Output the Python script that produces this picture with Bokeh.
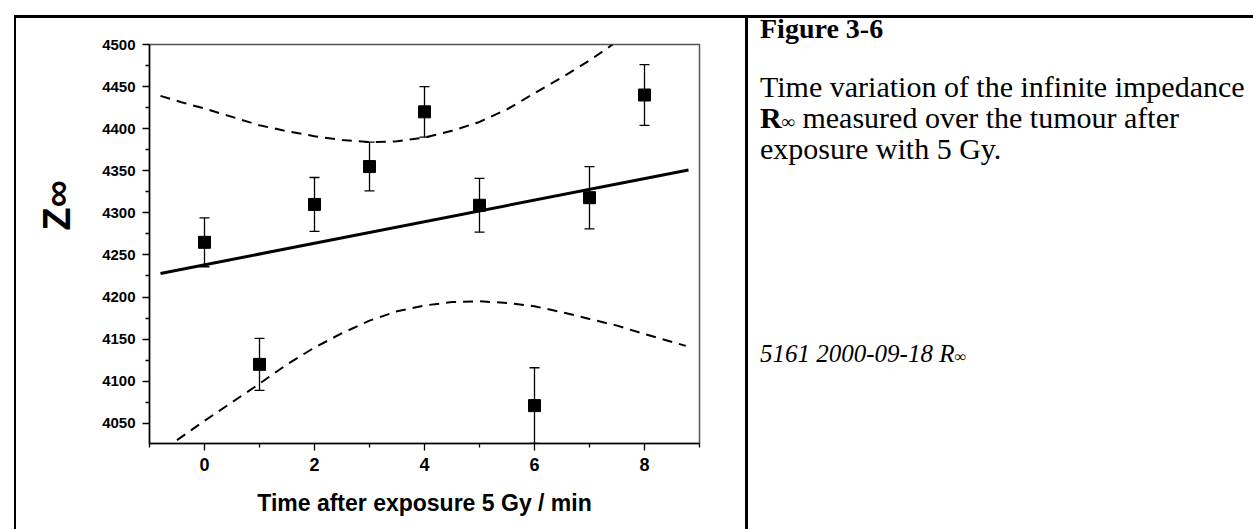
from bokeh.plotting import figure
from bokeh.models import (Range1d, Whisker, ColumnDataSource, TeeHead, FixedTicker,
                          Title, Div)
from bokeh.layouts import column
from bokeh.embed import file_html
from bokeh.resources import INLINE

# ---- data ----
time_min = [0, 1, 2, 3, 4, 5, 6, 7, 8]
z_inf = [4265, 4120, 4310, 4355, 4420, 4309, 4071, 4318, 4440]
z_err = [29, 31, 32, 29, 30, 32, 45, 37, 36]

fit_x = [-0.8, 8.8]
fit_y = [4228, 4351]

upper_x = [-0.8, -0.4, 0, 0.5, 1, 1.5, 2, 2.5, 3, 3.5, 4, 4.5, 5, 5.5, 6, 6.5, 7, 7.42]
upper_y = [4439, 4431, 4424, 4414, 4404, 4397, 4391, 4386.5, 4384, 4385, 4389.5, 4397.5,
           4408, 4423, 4442, 4461, 4481, 4500]

lower_x = [-0.5, 0, 0.5, 1, 1.5, 2, 2.5, 3, 3.5, 4, 4.5, 5, 5.5, 6, 6.5, 7, 7.5, 8, 8.75]
lower_y = [4030, 4053, 4075, 4097, 4120, 4140, 4157, 4172, 4183, 4190, 4194, 4195, 4193,
           4189, 4182, 4174, 4166, 4156, 4142]

x_ticks = [0, 2, 4, 6, 8]
x_minor = [-1, 1, 3, 5, 7, 9]
y_ticks = [4050, 4100, 4150, 4200, 4250, 4300, 4350, 4400, 4450, 4500]
y_minor = [4075, 4125, 4175, 4225, 4275, 4325, 4375, 4425, 4475]

x_title = "Time after exposure 5 Gy / min"
y_title = "Z∞"
caption_head = "Figure 3-6"
caption_lines = ["Time variation of the infinite impedance",
                 "measured over the tumour after",
                 "exposure with 5 Gy."]
caption_note = "5161 2000-09-18 R"

X0, X1 = -1, 9
Y0, Y1 = 4026, 4500
FW, FH = 550, 399
FL, FT = 149, 44
W, H = 1253, 529

p = figure(frame_width=FW, frame_height=FH,
           x_range=Range1d(X0, X1), y_range=Range1d(Y0, Y1),
           output_backend="svg", toolbar_location=None,
           min_border_left=FL, min_border_right=W - FL - FW,
           min_border_top=FT, min_border_bottom=H - FT - FH)
p.background_fill_color = "white"
p.border_fill_color = "white"
p.xgrid.visible = False
p.ygrid.visible = False
p.outline_line_color = "#555555"
p.outline_line_width = 1.5

p.xaxis.ticker = FixedTicker(ticks=x_ticks, minor_ticks=x_minor)
p.yaxis.ticker = FixedTicker(ticks=y_ticks, minor_ticks=y_minor)
for ax in (p.xaxis[0], p.yaxis[0]):
    ax.axis_line_color = "black"
    ax.axis_line_width = 1.5
    ax.major_tick_line_color = "black"
    ax.minor_tick_line_color = "black"
    ax.major_tick_line_width = 1.3
    ax.minor_tick_line_width = 1.3
    ax.major_tick_in = 0
    ax.major_tick_out = 7
    ax.minor_tick_in = 0
    ax.minor_tick_out = 4
    ax.major_label_text_font = "Liberation Sans"
    ax.major_label_text_font_style = "bold"
    ax.major_label_text_color = "black"

p.yaxis.major_label_text_font_size = "15px"
p.yaxis.major_label_standoff = 7
p.xaxis.major_label_text_font_size = "18px"
p.xaxis.major_label_standoff = 7
p.xaxis.axis_label = x_title
p.xaxis.axis_label_text_font = "Liberation Sans"
p.xaxis.axis_label_text_font_style = "bold"
p.xaxis.axis_label_text_font_size = "23px"
p.xaxis.axis_label_text_color = "black"
p.xaxis.axis_label_standoff = 16

# y title as a left-side title, shifted up along the axis
p.add_layout(Title(text=y_title, align="left", offset=213, standoff=43,
                   text_font="Liberation Sans", text_font_style="bold",
                   text_font_size="38px", text_color="black"), "left")

# ---- glyphs ----
p.line(fit_x, fit_y, line_color="black", line_width=3)
p.line(upper_x, upper_y, line_color="black", line_width=2, line_dash="10 7")
p.line(lower_x, lower_y, line_color="black", line_width=2, line_dash="10 7")

src = ColumnDataSource(dict(
    x=time_min, y=z_inf,
    upper=[v + e for v, e in zip(z_inf, z_err)],
    lower=[v - e for v, e in zip(z_inf, z_err)]))
p.add_layout(Whisker(base="x", upper="upper", lower="lower", source=src,
                     line_color="black", line_width=1.3,
                     upper_head=TeeHead(size=10, line_color="black", line_width=1.3),
                     lower_head=TeeHead(size=10, line_color="black", line_width=1.3)))
p.scatter("x", "y", source=src, marker="square", size=12,
          fill_color="black", line_color="black")

# ---- table borders and caption (HTML overlay) ----
def text_top(baseline, size):
    # line-height:1 -> baseline sits 0.8375 em below the box top for Liberation Serif
    return baseline - 0.8375 * size

TX = 755
html = f"""
<div style="position:relative;width:{W}px;height:{H}px;font-family:'Liberation Serif',serif;color:#000;">
 <div style="position:absolute;left:8.5px;top:10px;width:2.5px;height:{H}px;background:#000;"></div>
 <div style="position:absolute;left:8.5px;top:10px;width:{W}px;height:2.5px;background:#000;"></div>
 <div style="position:absolute;left:740px;top:10px;width:2.7px;height:{H}px;background:#000;"></div>
 <div style="position:absolute;left:{TX}px;top:{text_top(33, 28):.1f}px;font-size:28px;line-height:1;font-weight:bold;white-space:nowrap;">{caption_head}</div>
 <div style="position:absolute;left:{TX}px;top:{text_top(92, 30):.1f}px;font-size:30px;line-height:1;white-space:nowrap;">{caption_lines[0]}</div>
 <div style="position:absolute;left:{TX}px;top:{text_top(123, 30):.1f}px;font-size:30px;line-height:1;white-space:nowrap;"><b>R<span style="font-size:62%;">∞</span></b> {caption_lines[1]}</div>
 <div style="position:absolute;left:{TX}px;top:{text_top(154, 30):.1f}px;font-size:30px;line-height:1;white-space:nowrap;">{caption_lines[2]}</div>
 <div style="position:absolute;left:{TX}px;top:{text_top(357, 25):.1f}px;font-size:25px;line-height:1;font-style:italic;white-space:nowrap;">{caption_note}<span style="font-size:65%;">∞</span></div>
</div>
"""
overlay = Div(text=html, width=W, height=H,
              styles={"position": "absolute", "left": "0px", "top": "0px",
                      "pointer-events": "none", "background": "transparent"})

layout = column(p, overlay)
open("out.html", "w").write(file_html(layout, INLINE))
